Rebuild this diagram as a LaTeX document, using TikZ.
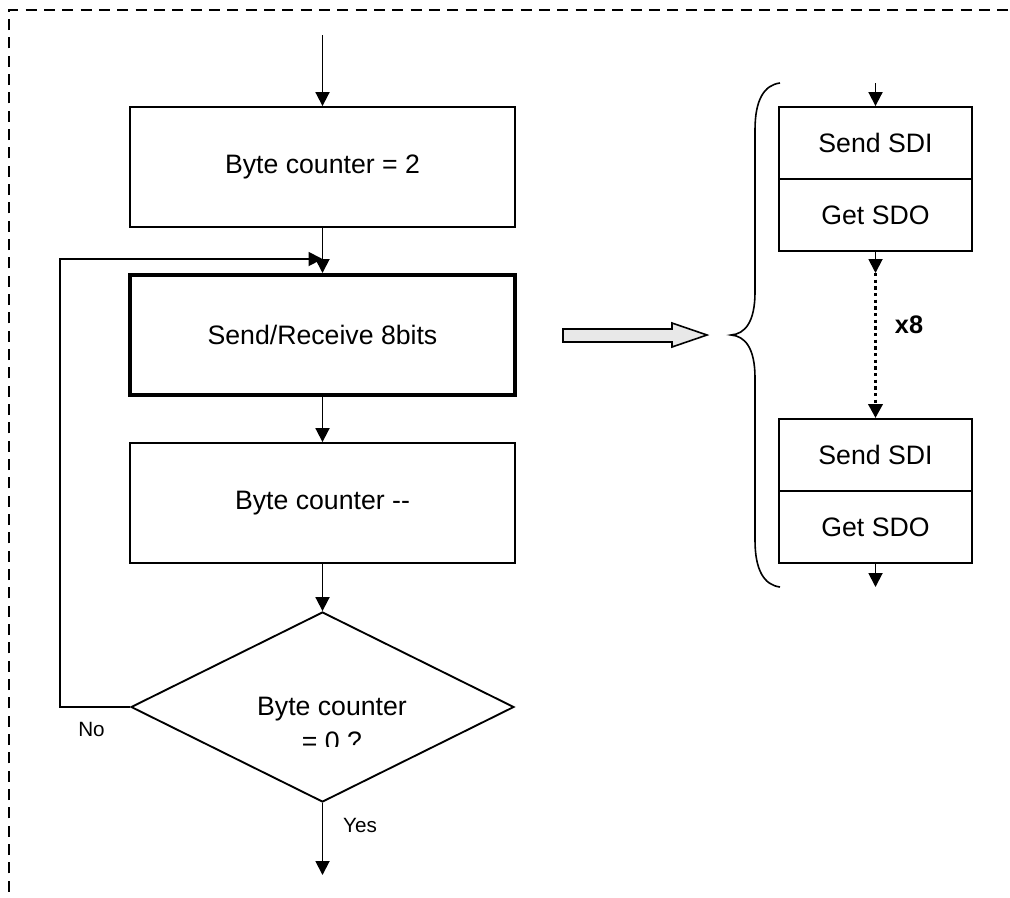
\documentclass[tikz,border=0pt]{standalone}
\usepackage{fontspec}
\setmainfont{Liberation Sans}
\usetikzlibrary{arrows.meta,shapes.geometric}

\tikzset{
  frame/.style={line width=2.1pt, dash pattern=on 8.25pt off 5.5pt},
  procbox/.style={draw, line width=1.4pt, inner sep=0pt,
    minimum width=288.75pt, minimum height=90pt,
    font=\fontsize{20}{24}\selectfont},
  keybox/.style={procbox, line width=3pt},
  decision/.style={draw, diamond, line width=1.4pt, inner sep=0pt,
    minimum width=287.25pt, minimum height=142.5pt},
  bitbox/.style={draw, line width=1.4pt, inner sep=0pt,
    minimum width=144.75pt, minimum height=54pt,
    font=\fontsize{20}{24}\selectfont},
  flow/.style={line width=1.4pt, -{Triangle[length=10.5pt,width=10.5pt]}},
  repeatflow/.style={flow, line width=2.6pt, dash pattern=on 2.5pt off 2.5pt},
  smalllabel/.style={inner sep=0pt, font=\fontsize{15.5}{18}\selectfont},
  bracepath/.style={line width=1.2pt},
  blockarrow/.style={line width=1.2pt, fill=gray!18}
}

\begin{document}
\begin{tikzpicture}[x=0.75pt, y=-0.75pt]
  \useasboundingbox (0,0) rectangle (1010,897);

  % dashed frame around the routine
  \draw[frame] (9,910) -- (9,10) -- (1020,10);

  % main loop
  \coordinate (entry) at (322.5,35);
  \node[procbox] (init) at (322.5,167) {Byte counter = 2};
  \node[keybox]  (xfer) at (322.5,335) {Send/Receive 8bits};
  \node[procbox] (dec)  at (322.5,503) {Byte counter {-}{-}};
  \node[decision] (test) at (322.5,707) {};
  \begin{scope}
    \clip (240,690) rectangle (420,746);
    \node[inner sep=0pt, anchor=north, align=center,
          font=\fontsize{20}{26.25}\selectfont] (testtext) at (332,697)
          {Byte counter\\= 0 ?};
  \end{scope}
  \coordinate (join) at (322.5,259);
  \coordinate (exit) at (322.5,875);

  \draw[flow] (entry) -- (init.north);
  \draw[flow] (init.south) -- (xfer.north);
  \draw[flow] (xfer.south) -- (dec.north);
  \draw[flow] (dec.south) -- (test.north);
  \draw[flow] (test.south) -- (exit);
  \draw[flow] (test.west) -- (60,707) |- (join);

  \node[smalllabel] (nolabel)  at (91.5,729.5) {No};
  \node[smalllabel] (yeslabel) at (360,825) {Yes};

  % expansion of one transfer
  \draw[blockarrow] (563,329) -- (672,329) -- (672,323) -- (707,335)
        -- (672,347) -- (672,342) -- (563,342) -- cycle;

  \draw[bracepath] (780,83) .. controls (764,85) and (755,100) .. (755,130)
        -- (755,292) .. controls (755,322) and (745,334) .. (731,335)
        .. controls (745,336) and (755,348) .. (755,378)
        -- (755,540) .. controls (755,570) and (764,585) .. (780,587);

  \node[bitbox] (sdiA) at (875.5,143) {Send SDI};
  \node[bitbox] (sdoA) at (875.5,215) {Get SDO};
  \node[bitbox] (sdiB) at (875.5,455) {Send SDI};
  \node[bitbox] (sdoB) at (875.5,527) {Get SDO};

  \coordinate (bitin)  at (875.5,83);
  \coordinate (rep)    at (875.5,273);
  \coordinate (bitout) at (875.5,587);

  \draw[flow] (bitin) -- (sdiA.north);
  \draw[flow] (sdoA.south) -- (rep);
  \draw[repeatflow] (rep) -- (sdiB.north);
  \draw[flow] (sdoB.south) -- (bitout);

  \node[inner sep=0pt, font=\fontsize{19}{22}\selectfont\bfseries]
        (count) at (909,325) {x8};
\end{tikzpicture}
\end{document}
